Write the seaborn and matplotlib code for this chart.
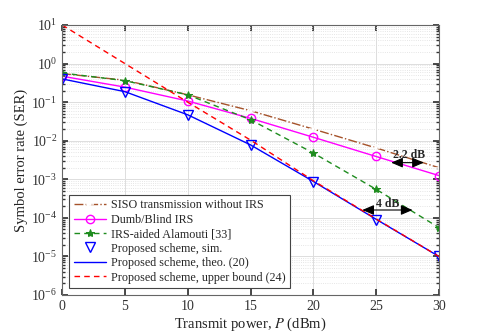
import numpy as np
import pandas as pd
import matplotlib
matplotlib.use("Agg")
import matplotlib.pyplot as plt
import seaborn as sns

# SER curves
power_dbm = [0, 5, 10, 15, 20, 25, 30]
ser_siso = [0.55, 0.37, 0.155, 0.060, 0.020, 0.0065, 0.0020]
ser_blind = [0.47, 0.245, 0.107, 0.038, 0.0123, 0.0039, 0.00125]
ser_alamouti = [0.57, 0.36, 0.155, 0.035, 0.0048, 0.00055, 5.6e-5]
ser_prop_sim = [0.40, 0.187, 0.047, 0.0078, 0.00087, 9.0e-5, 1.0e-5]
ser_prop_theo = [0.40, 0.187, 0.047, 0.0078, 0.00088, 9.2e-5, 1.0e-5]
ser_prop_ub = [10.0, 1.0, 0.1, 0.0104, 0.00092, 9.4e-5, 1.0e-5]

sns.set_theme(style="ticks")
plt.rcParams['font.family'] = ['Liberation Serif', 'DejaVu Serif']
plt.rcParams['mathtext.fontset'] = 'stix'

fig = plt.figure(figsize=(4.85, 3.33), dpi=100)
ax = fig.add_axes([0.128, 0.114, 0.777, 0.811])

brown = '#A5522A'
sns.lineplot(x=power_dbm, y=ser_siso, ax=ax, color=brown, linestyle='-.', marker='+',
             markersize=6, markeredgewidth=1.1, linewidth=1.0,
             label='SISO transmission without IRS')
sns.lineplot(x=power_dbm, y=ser_blind, ax=ax, color='magenta', linestyle='-', marker='o',
             markersize=6, markerfacecolor='none', markeredgecolor='magenta',
             markeredgewidth=1.0, linewidth=1.0, label='Dumb/Blind IRS')
sns.lineplot(x=power_dbm, y=ser_alamouti, ax=ax, color='#1E8C1E', linestyle=(0, (4, 3)),
             marker='*', markersize=6, markeredgecolor='#1E8C1E', linewidth=1.0,
             label='IRS-aided Alamouti [33]')
ax.plot(power_dbm, ser_prop_sim, linestyle='none', marker='v', markersize=6.5,
        markerfacecolor='none', markeredgecolor='blue', markeredgewidth=1.0,
        label='Proposed scheme, sim.')
sns.lineplot(x=power_dbm, y=ser_prop_theo, ax=ax, color='blue', linewidth=1.0,
             label='Proposed scheme, theo. (20)')
sns.lineplot(x=power_dbm, y=ser_prop_ub, ax=ax, color='red', linestyle=(0, (4, 3)),
             linewidth=1.0, label='Proposed scheme, upper bound (24)')

ax.set_yscale('log')
ax.set_xlim(0, 30)
ax.set_ylim(1e-6, 10)
ax.set_xticks([0, 5, 10, 15, 20, 25, 30])
ax.set_yticks([10.0 ** k for k in range(-6, 2)])
ax.tick_params(axis='both', which='both', direction='in', labelsize=10, colors='#333333',
               top=True, right=True)
ax.tick_params(axis='both', which='major', length=4)
ax.tick_params(axis='y', which='minor', length=2)
for sp in ax.spines.values():
    sp.set_color('#666666')
    sp.set_linewidth(0.8)

ax.grid(True, which='major', color='#DDDDDD', linewidth=0.7, linestyle='-')
ax.grid(True, which='minor', axis='y', color='#DDDDDD', linewidth=0.6, linestyle=':')

ax.set_xlabel('Transmit power, $P$ (dBm)', fontsize=10.5, color='#222222', labelpad=2)
ax.set_ylabel('Symbol error rate (SER)', fontsize=10.5, color='#222222', labelpad=2)

# gain annotations
arrow = dict(arrowstyle='<|-|>,head_length=0.7,head_width=0.3', color='black', lw=0.8,
             mutation_scale=10, shrinkA=0, shrinkB=0)
ax.annotate('', xy=(26.2, 0.0027), xytext=(28.8, 0.0027), arrowprops=arrow)
ax.text(27.6, 0.0043, '2.2 dB', fontsize=8.5, fontweight='bold', ha='center', va='center')
ax.annotate('', xy=(23.9, 1.6e-4), xytext=(27.9, 1.6e-4), arrowprops=arrow)
ax.text(25.9, 2.3e-4, '4 dB', fontsize=8.5, fontweight='bold', ha='center', va='center')

leg = ax.legend(loc='lower left', fontsize=8.7, frameon=True, fancybox=False,
                borderpad=0.35, labelspacing=0.2, handlelength=2.7, handletextpad=0.4,
                borderaxespad=0.6)
leg.get_frame().set_edgecolor('#444444')
leg.get_frame().set_linewidth(0.8)
leg.get_frame().set_alpha(1)

fig.savefig('out.png', dpi=100)
